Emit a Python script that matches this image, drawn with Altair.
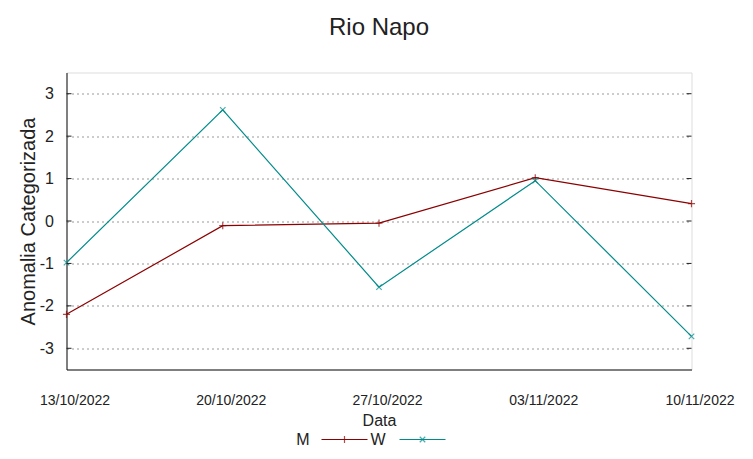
import altair as alt
import pandas as pd

dates = ["13/10/2022", "20/10/2022", "27/10/2022", "03/11/2022", "10/11/2022"]
m_values = [-2.2, -0.11, -0.05, 1.02, 0.41]
w_values = [-0.98, 2.62, -1.56, 0.95, -2.72]
series = ["M", "W"]
colors = ["#8b0000", "#008b8b"]
y_ticks = [-3, -2, -1, 0, 1, 2, 3]

rows = []
for d, m, w in zip(dates, m_values, w_values):
    rows.append({"Data": d, "serie": "M", "valor": m})
    rows.append({"Data": d, "serie": "W", "valor": w})
df = pd.DataFrame(rows)
ticks_df = pd.DataFrame({"valor": y_ticks})

plus_path = "M-1,0L1,0M0,-1L0,1"
x_path = "M-1,-1L1,1M-1,1L1,-1"
FONT = "Liberation Sans"

x_enc = alt.X(
    "Data:O",
    sort=dates,
    scale=alt.Scale(type="point", padding=0),
    axis=alt.Axis(labelAngle=0, ticks=False, grid=False, domain=True,
                  domainColor="#111", domainWidth=1, labelOffset=8,
                  labelPadding=24, labelFontSize=14, labelColor="#222",
                  title="Data", titleFontSize=16, titleFontWeight="normal",
                  titlePadding=5, titleColor="#222", labelFont=FONT, titleFont=FONT),
)
y_scale = alt.Scale(domain=[-3.5, 3.5], nice=False, zero=False)
y_enc = alt.Y(
    "valor:Q",
    scale=y_scale,
    axis=alt.Axis(values=y_ticks, ticks=False, domain=True, domainColor="#111",
                  grid=True, gridDash=[2, 3], gridColor="#999", gridWidth=1,
                  labelPadding=13, labelFontSize=16, labelColor="#222",
                  labelExpr="toString(datum.value)",
                  title="Anomalia Categorizada", titleFontSize=20,
                  titleFontWeight="normal", titlePadding=1, titleColor="#222",
                  labelFont=FONT, titleFont=FONT),
)
color_enc = alt.Color("serie:N", scale=alt.Scale(domain=series, range=colors), legend=None)

lines = alt.Chart(df).mark_line(strokeWidth=1.2).encode(x=x_enc, y=y_enc, color=color_enc)

pts_m = alt.Chart(df).transform_filter(alt.datum.serie == "M").mark_point(
    shape=plus_path, size=50, filled=False, strokeWidth=1.2
).encode(x=x_enc, y=y_enc, color=color_enc)
pts_w = alt.Chart(df).transform_filter(alt.datum.serie == "W").mark_point(
    shape=x_path, size=30, filled=False, strokeWidth=1.2
).encode(x=x_enc, y=y_enc, color=color_enc)

tick_l = alt.Chart(ticks_df).mark_rule(color="#222", strokeWidth=1).encode(
    y=alt.Y("valor:Q", scale=y_scale), x=alt.value(0), x2=alt.value(5))
tick_r = alt.Chart(ticks_df).mark_rule(color="#222", strokeWidth=1).encode(
    y=alt.Y("valor:Q", scale=y_scale), x=alt.value(620), x2=alt.value(625))

one = alt.Data(values=[{"a": 1}])
leg_y = 367
leg_layers = []
items = [("M", colors[0], plus_path, 50, 243, 255, 301, 278),
         ("W", colors[1], x_path, 30, 319, 333, 379, 356)]
for label, col, shp, sz, tx, l0, l1, mx in items:
    leg_layers.append(alt.Chart(one).mark_text(text=label, align="right", baseline="middle",
                                               fontSize=16, font=FONT, color="#222")
                      .encode(x=alt.value(tx), y=alt.value(leg_y)))
    leg_layers.append(alt.Chart(one).mark_rule(color=col, strokeWidth=1.2)
                      .encode(x=alt.value(l0), x2=alt.value(l1), y=alt.value(leg_y)))
    leg_layers.append(alt.Chart(one).mark_point(shape=shp, size=sz, filled=False,
                                                strokeWidth=1.2, color=col)
                      .encode(x=alt.value(mx), y=alt.value(leg_y)))

chart = alt.layer(lines, pts_m, pts_w, tick_l, tick_r, *leg_layers).properties(
    width=625,
    height=297,
    padding={"left": 58.5, "top": 64.5, "right": 53, "bottom": 81},
    autosize=alt.AutoSizeParams(type="none"),
    title=alt.TitleParams("Rio Napo", fontSize=24, font=FONT, fontWeight="normal",
                          color="#222", offset=33, anchor="middle"),
).configure_view(stroke="#555", strokeWidth=1).configure(background="white")

chart.save("out.html", embed_options={"renderer": "svg", "actions": False})
